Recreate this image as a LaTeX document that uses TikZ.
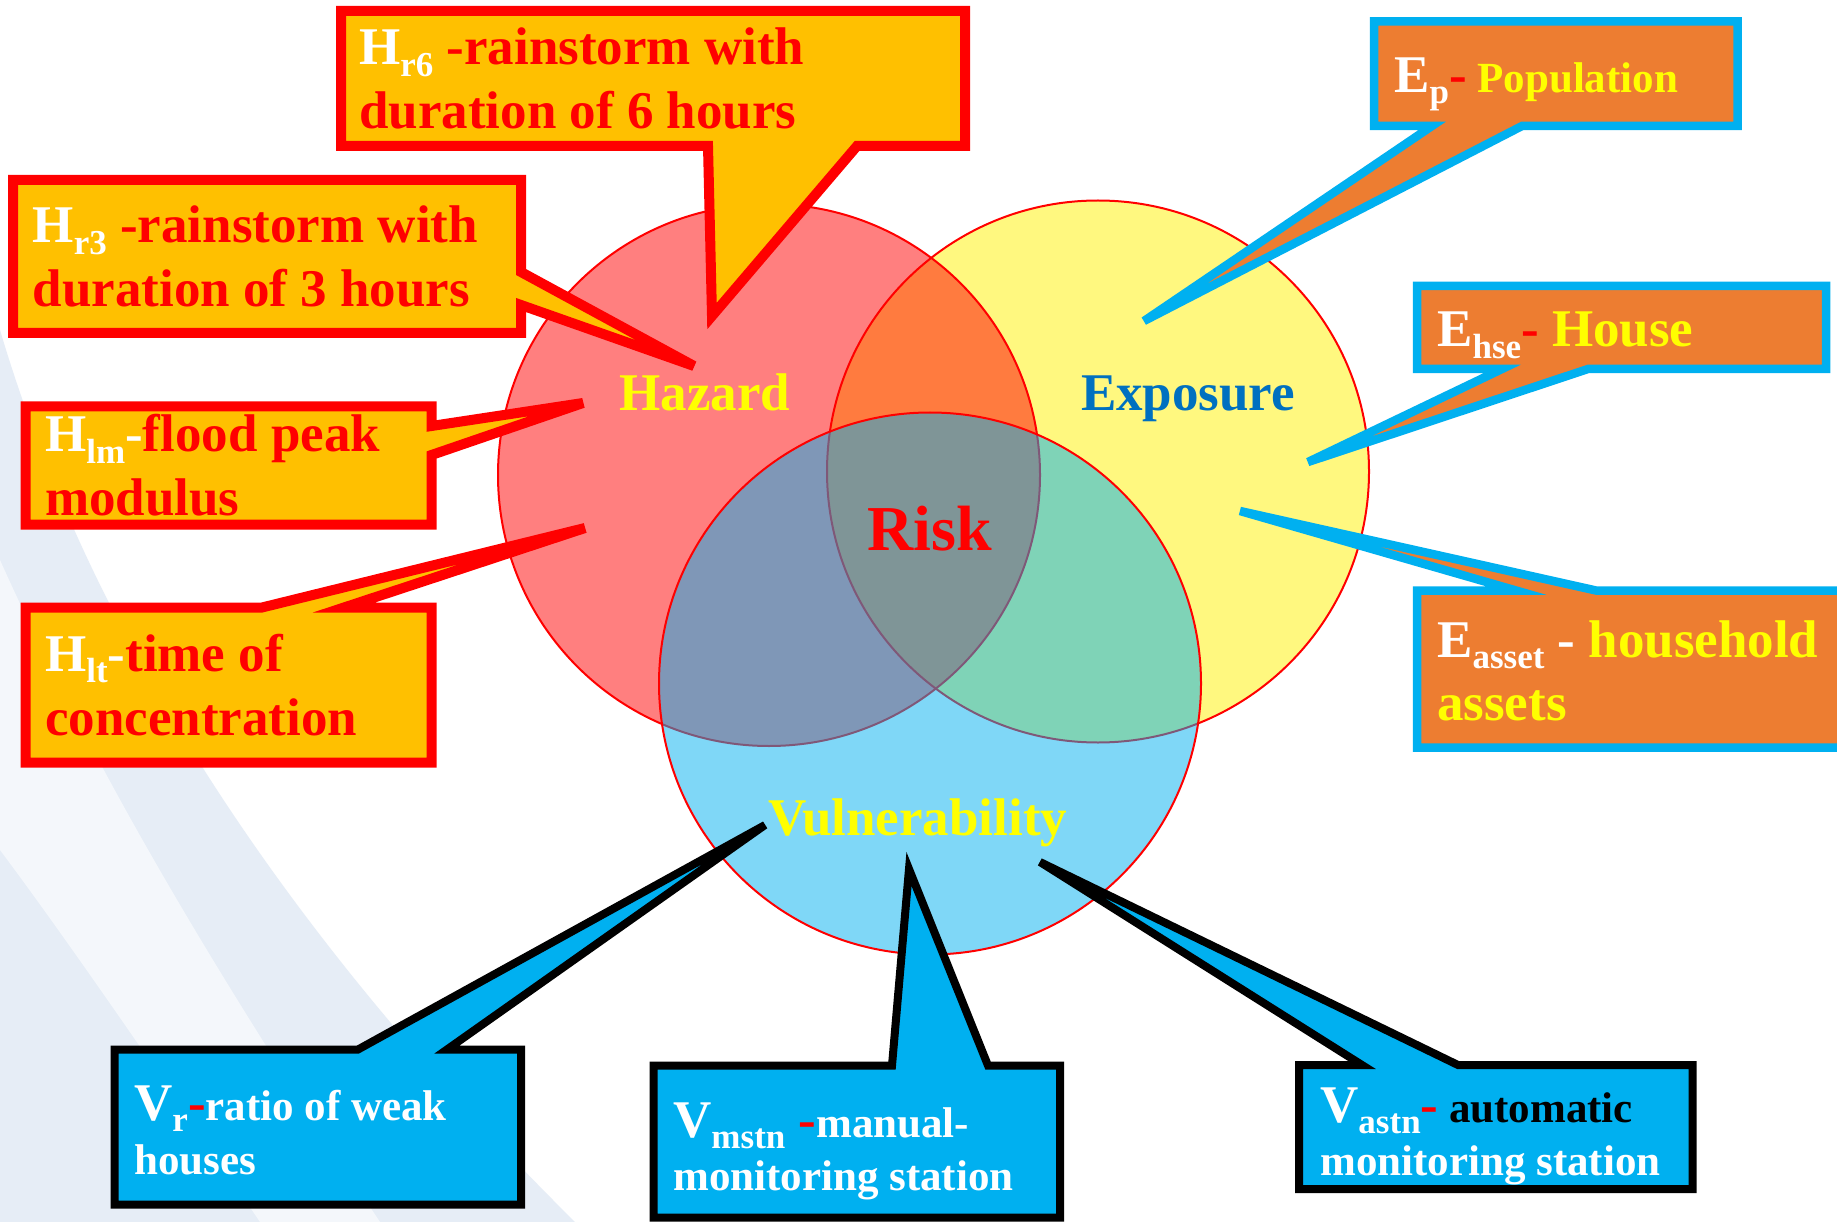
\documentclass[tikz,border=0pt]{standalone}
\usepackage{fontspec}
\setmainfont{Liberation Serif}
\definecolor{hfill}{HTML}{FFC000}
\definecolor{efill}{HTML}{ED7D31}
\definecolor{ecyan}{HTML}{00B0F0}
\definecolor{eblue}{HTML}{0070C0}
\definecolor{yel}{HTML}{FFFF00}
\definecolor{bgA}{HTML}{E6EDF6}
\definecolor{bgB}{HTML}{F4F7FB}
\newcommand{\subs}[1]{\raisebox{-11.5pt}{\fontsize{35}{35}\selectfont #1}}
\newcommand{\fs}[1]{\fontsize{#1}{#1}\selectfont}
\begin{document}
\begin{tikzpicture}[x=1pt,y=-1pt,
  txt/.style={inner sep=0pt, anchor=base west, font=\bfseries\fs{53}},
  lbl/.style={inner sep=0pt, anchor=base, font=\bfseries\fs{53}},
  venn/.style={draw=red, line width=2pt},
  hbox/.style={fill=hfill, draw=red, line width=10pt, miter limit=8},
  ebox/.style={fill=efill, draw=ecyan, line width=8.5pt, miter limit=8},
  vbox/.style={fill=ecyan, draw=black, line width=8pt, miter limit=8}]
\useasboundingbox (0,0) rectangle (1837,1222);
\clip (0,0) rectangle (1837,1222);
\fill[white] (0,0) rectangle (1837,1222);
% background swoosh
\fill[bgA] (0,330) .. controls (80,600) and (250,900) .. (575,1222) -- (0,1222) -- cycle;
\fill[bgB] (0,560) .. controls (90,760) and (200,950) .. (380,1222) -- (260,1222) .. controls (150,1060) and (60,930) .. (0,850) -- cycle;
% Venn circles
\path[venn, fill=yellow, fill opacity=0.5] (1098,471.5) circle[radius=271pt];
\path[venn, fill=red, fill opacity=0.5] (769,475) circle[radius=271pt];
\path[venn, fill=ecyan, fill opacity=0.5] (930,683.5) circle[radius=271pt];
% hazard callouts
\draw[hbox] (341,11) -- (965,11) -- (965,146) -- (857,146) -- (712,316) -- (708,146) -- (341,146) -- cycle;
\draw[hbox] (13,180) -- (521,180) -- (521,272) -- (694,366) -- (521,305) -- (521,333) -- (13,333) -- cycle;
\draw[hbox] (25.5,406.5) -- (431.5,406.5) -- (431.5,426) -- (583,403) -- (431.5,455) -- (431.5,524.5) -- (25.5,524.5) -- cycle;
\draw[hbox] (25.5,607.5) -- (262,607.5) -- (585,528) -- (344,607.5) -- (431.5,607.5) -- (431.5,762.5) -- (25.5,762.5) -- cycle;
% exposure callouts
\draw[ebox] (1374,21.5) -- (1737.5,21.5) -- (1737.5,126) -- (1522,126) -- (1144,321) -- (1432,126) -- (1374,126) -- cycle;
\draw[ebox] (1417,286) -- (1826,286) -- (1826,369) -- (1588,369) -- (1308,462) -- (1502,369) -- (1417,369) -- cycle;
\draw[ebox] (1417,590.5) -- (1516,590.5) -- (1240,511) -- (1596,590.5) -- (1860,590.5) -- (1860,747.5) -- (1417,747.5) -- cycle;
% vulnerability callouts
\draw[vbox] (114.5,1049.5) -- (358,1049.5) -- (765,825) -- (447,1049.5) -- (521,1049.5) -- (521,1204.5) -- (114.5,1204.5) -- cycle;
\draw[vbox] (653.5,1065.5) -- (892,1065.5) -- (909,869) -- (988,1065.5) -- (1060,1065.5) -- (1060,1217.5) -- (653.5,1217.5) -- cycle;
\draw[vbox] (1299,1065) -- (1362,1065) -- (1040,862) -- (1458,1065) -- (1692.5,1065) -- (1692.5,1189) -- (1299,1189) -- cycle;
% circle labels
\node[lbl, text=yel] (hazard) at (705,410) {Hazard};
\node[lbl, text=eblue] (exposure) at (1188,410) {Exposure};
\node[lbl, text=red, font=\bfseries\fs{64}] (risk) at (930,550) {Risk};
\node[lbl, text=yel] (vuln) at (918,835) {Vulnerability};
% hazard texts
\node[txt, text=white] (hr6a) at (359,65) {H\subs{r6} \textcolor{red}{-rainstorm with}};
\node[txt, text=red] (hr6b) at (359,128.5) {duration of 6 hours};
\node[txt, text=white] (hr3a) at (32.5,243) {H\subs{r3} \textcolor{red}{-rainstorm with}};
\node[txt, text=red] (hr3b) at (32.5,307) {duration of 3 hours};
\node[txt, text=white] (hlma) at (45,452) {H\subs{lm}-\textcolor{red}{flood peak}};
\node[txt, text=red] (hlmb) at (45,515) {modulus};
\node[txt, text=white] (hlta) at (45,671) {H\subs{lt}-\textcolor{red}{time of}};
\node[txt, text=red] (hltb) at (45,735) {concentration};
% exposure texts
\node[txt, text=white] (epa) at (1394,92.5) {E\subs{p}\textcolor{red}{-}{\fs{43} \textcolor{yel}{Population}}};
\node[txt, text=white] (ehse) at (1437,347) {E\subs{hse}\textcolor{red}{-} \textcolor{yel}{House}};
\node[txt, text=white] (easa) at (1437,657) {E\subs{asset} - \textcolor{yel}{household}};
\node[txt, text=yel] (easb) at (1437,720) {assets};
% vulnerability texts
\node[txt, text=white] (vra) at (134,1120) {V\subs{r}\textcolor{red}{-}{\fs{43}ratio of weak}};
\node[txt, text=white, font=\bfseries\fs{43}] (vrb) at (134,1174) {houses};
\node[txt, text=white] (vma) at (673,1137) {V\subs{mstn} \textcolor{red}{-}{\fs{43}manual-}};
\node[txt, text=white, font=\bfseries\fs{43}] (vmb) at (673,1190) {monitoring station};
\node[txt, text=white] (vaa) at (1320,1122) {V\subs{astn}\textcolor{red}{-}{\fs{43} \textcolor{black}{automatic}}};
\node[txt, text=white, font=\bfseries\fs{43}] (vab) at (1320,1175) {monitoring station};
\end{tikzpicture}
\end{document}
